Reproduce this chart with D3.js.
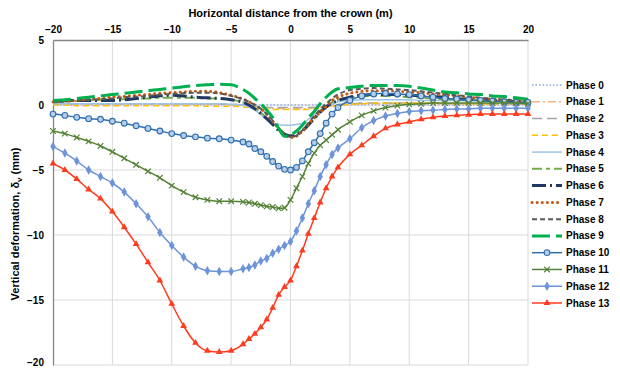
<!DOCTYPE html>
<html>
<head>
<meta charset="utf-8">
<script src="https://cdn.jsdelivr.net/npm/d3@7"></script>
<style>
  body { margin: 0; background: #fff; }
  text { font-family: "Liberation Sans", Arial, sans-serif; font-weight: bold; fill: #000; }
</style>
</head>
<body>
<div id="chart"></div>
<script>
// horizontal distance from the crown (m)
const xs = [-20,-19,-18,-17,-16,-15,-14,-13,-12,-11,-10,-9,-8,-7,-6,-5,-4,
  -3.5,-3,-2.5,-2,-1.5,-1,-0.5,0,0.5,1,1.5,2,2.5,3,3.5,
  4,5,6,7,8,9,10,11,12,13,14,15,16,17,18,19,20];

const phaseNames = ['Phase 0','Phase 1','Phase 2','Phase 3','Phase 4','Phase 5','Phase 6',
  'Phase 7','Phase 8','Phase 9','Phase 10','Phase 11','Phase 12','Phase 13'];

// vertical deformation (mm), one array per phase
const phase0 = [0,0,0,0,0,0,0,0,0,0,0,0,0,0,0,0,0,
  0,0,0,0,0,0,0,0,0,0,0,0,0,0,0,
  0,0,0,0,0,0,0,0,0,0,0,0,0,0,0,0,0];
const phase1 = [0.05,0.05,0.05,0.05,0.05,0.05,0.05,0.05,0.05,0.05,0.05,0.05,0.05,0.05,0.05,0,0,
  -0.05,-0.1,-0.15,-0.2,-0.25,-0.25,-0.3,-0.3,-0.3,-0.3,-0.25,-0.2,-0.15,-0.1,-0.05,
  0,0.05,0.1,0.1,0.1,0.1,0.1,0.1,0.1,0.1,0.1,0.1,0.05,0.05,0.05,0.05,0.05];
const phase2 = [0.1,0.1,0.1,0.1,0.1,0.1,0.1,0.1,0.1,0.1,0.1,0.1,0.1,0.1,0.05,0.05,0,
  -0.05,-0.1,-0.15,-0.2,-0.2,-0.2,-0.2,-0.2,-0.2,-0.2,-0.2,-0.2,-0.15,-0.1,0,
  0.05,0.1,0.15,0.15,0.15,0.15,0.15,0.15,0.15,0.1,0.1,0.1,0.1,0.1,0.1,0.05,0.05];
const phase3 = [0,0,-0.05,-0.05,-0.05,-0.05,-0.05,-0.05,-0.05,-0.05,-0.05,-0.05,-0.05,-0.1,-0.1,-0.1,-0.15,
  -0.2,-0.25,-0.3,-0.3,-0.35,-0.35,-0.35,-0.35,-0.35,-0.35,-0.35,-0.3,-0.25,-0.2,-0.1,
  -0.05,0.05,0.1,0.15,0.15,0.15,0.15,0.15,0.15,0.15,0.1,0.1,0.1,0.1,0.1,0.1,0.1];
const phase4 = [0.1,0.1,0.1,0.1,0.1,0.1,0.1,0.1,0.1,0.1,0.1,0.1,0.1,0.1,0.1,0.05,0,
  -0.15,-0.4,-0.75,-1.15,-1.4,-1.5,-1.55,-1.55,-1.5,-1.4,-1.1,-0.75,-0.4,-0.1,0.1,
  0.25,0.35,0.4,0.4,0.4,0.4,0.4,0.35,0.35,0.35,0.35,0.3,0.3,0.3,0.3,0.3,0.3];
const phase5 = [0.2,0.25,0.3,0.35,0.4,0.45,0.45,0.5,0.5,0.55,0.55,0.55,0.55,0.5,0.5,0.4,0.2,
  0,-0.25,-0.6,-1,-1.45,-1.9,-2.2,-2.3,-2.2,-1.9,-1.45,-0.95,-0.5,-0.1,0.2,
  0.4,0.6,0.65,0.7,0.7,0.65,0.6,0.55,0.5,0.45,0.45,0.4,0.35,0.35,0.3,0.3,0.3];
const phase6 = [0.3,0.32,0.35,0.35,0.35,0.35,0.4,0.5,0.6,0.7,0.75,0.7,0.6,0.55,0.5,0.4,0.2,
  0,-0.3,-0.65,-1.05,-1.5,-1.95,-2.25,-2.4,-2.3,-2,-1.55,-1.05,-0.55,-0.15,0.15,
  0.35,0.6,0.75,0.8,0.8,0.8,0.75,0.7,0.65,0.6,0.5,0.45,0.4,0.35,0.3,0.25,0.2];
const phase7 = [0.25,0.3,0.35,0.45,0.5,0.6,0.65,0.75,0.8,0.9,0.95,1,1.05,1.05,0.95,0.75,0.45,
  0.25,0,-0.3,-0.7,-1.25,-1.8,-2.3,-2.5,-2.4,-2,-1.5,-1,-0.55,-0.1,0.35,
  0.6,0.9,1.05,1.1,1.1,1.05,1,0.95,0.85,0.8,0.7,0.6,0.5,0.45,0.4,0.35,0.3];
const phase8 = [0.25,0.3,0.35,0.4,0.45,0.5,0.6,0.65,0.7,0.8,0.85,0.9,0.95,0.95,0.9,0.7,0.45,
  0.25,0,-0.3,-0.7,-1.2,-1.75,-2.2,-2.45,-2.35,-1.95,-1.4,-0.85,-0.35,0.1,0.5,
  0.8,1.15,1.25,1.3,1.25,1.2,1.15,1.05,0.95,0.85,0.75,0.65,0.55,0.5,0.4,0.35,0.3];
const phase9 = [0.35,0.4,0.5,0.6,0.7,0.8,0.9,1,1.1,1.2,1.3,1.4,1.5,1.55,1.6,1.55,1.2,
  0.9,0.5,0.1,-0.4,-0.95,-1.8,-2.4,-2.3,-2,-1.55,-1,-0.5,0.1,0.6,1,
  1.25,1.35,1.45,1.5,1.5,1.5,1.45,1.3,1.15,1,0.95,0.85,0.8,0.7,0.65,0.55,0.45];
const phase10 = [-0.7,-0.8,-0.95,-1.05,-1.1,-1.25,-1.4,-1.6,-1.8,-2,-2.2,-2.35,-2.45,-2.55,-2.6,-2.7,-2.85,
  -3,-3.35,-3.6,-3.95,-4.35,-4.7,-4.95,-5,-4.8,-4.3,-3.6,-2.9,-2.2,-1.4,-0.7,
  -0.2,0.35,0.7,0.85,0.9,0.85,0.8,0.7,0.6,0.5,0.45,0.4,0.35,0.3,0.25,0.2,0.2];
const phase11 = [-2,-2.2,-2.5,-2.8,-3.15,-3.6,-4.1,-4.6,-5.1,-5.6,-6.2,-6.7,-7.1,-7.3,-7.4,-7.4,-7.45,
  -7.5,-7.6,-7.7,-7.8,-7.85,-7.95,-7.9,-7.3,-6.4,-5.5,-4.5,-3.7,-3.1,-2.7,-2.3,
  -1.9,-1.3,-0.8,-0.45,-0.2,-0.05,0.05,0.1,0.15,0.15,0.15,0.15,0.15,0.15,0.15,0.15,0.1];
const phase12 = [-3.2,-3.7,-4.3,-5,-5.5,-6,-6.7,-7.6,-8.6,-9.8,-10.8,-11.7,-12.4,-12.75,-12.8,-12.8,-12.6,
  -12.5,-12.3,-12,-11.8,-11.4,-11.1,-10.8,-10.5,-9.7,-8.7,-7.6,-6.6,-5.5,-4.6,-3.8,
  -3.3,-2.6,-1.75,-1.2,-0.85,-0.65,-0.5,-0.45,-0.4,-0.35,-0.3,-0.3,-0.25,-0.25,-0.25,-0.25,-0.25];
const phase13 = [-4.5,-5,-5.7,-6.5,-7.2,-8.2,-9.4,-10.7,-12.1,-13.5,-15.3,-17,-18.3,-18.9,-19,-18.9,-18.4,
  -18,-17.6,-17.1,-16.5,-15.6,-14.6,-14,-13.5,-12.4,-11.2,-9.9,-8.7,-7.5,-6.4,-5.5,
  -4.8,-3.8,-3.1,-2.4,-1.8,-1.5,-1.3,-1.1,-0.95,-0.85,-0.8,-0.75,-0.7,-0.7,-0.7,-0.7,-0.7];

const xTicks = [-20,-15,-10,-5,0,5,10,15,20];
const yTicks = [5,0,-5,-10,-15,-20];

const allPhases = [phase0,phase1,phase2,phase3,phase4,phase5,phase6,
  phase7,phase8,phase9,phase10,phase11,phase12,phase13];

// line styles per phase
const styles = [
  { color: '#8faadc', width: 1.3, dash: '1.5,2' },
  { color: '#f4b183', width: 1.5, dash: '8,3,2,3' },
  { color: '#a5a5a5', width: 1.5, dash: '10,5' },
  { color: '#ffc000', width: 1.5, dash: '6,4' },
  { color: '#9dc3e6', width: 1.5, dash: null },
  { color: '#70ad47', width: 2, dash: '10,4,4,4' },
  { color: '#203864', width: 3, dash: '14,4,2,4' },
  { color: '#c55a11', width: 3, dash: '0.1,5', cap: 'round' },
  { color: '#595959', width: 2, dash: '5,3' },
  { color: '#00b050', width: 3, dash: '18,6' },
  { color: '#2e6fae', width: 1.5, dash: null, marker: 'circle' },
  { color: '#548235', width: 1.5, dash: null, marker: 'x' },
  { color: '#6d93d9', width: 1.5, dash: null, marker: 'diamond' },
  { color: '#ff3b1f', width: 1.5, dash: null, marker: 'triangle' }
];

const width = 620, height = 369;
const margin = { top: 40, right: 92, bottom: 4, left: 53 };

const svg = d3.select('#chart').append('svg')
  .attr('width', width)
  .attr('height', height);

const x = d3.scaleLinear().domain([-20, 20]).range([margin.left, width - margin.right]);
const y = d3.scaleLinear().domain([-20, 5]).range([height - margin.bottom, margin.top]);

// gridlines
svg.append('g').selectAll('line.v')
  .data(xTicks.slice(1))
  .enter().append('line')
  .attr('x1', d => x(d)).attr('x2', d => x(d))
  .attr('y1', y(5)).attr('y2', y(-20))
  .attr('stroke', '#d9d9d9').attr('stroke-width', 1);

svg.append('g').selectAll('line.h')
  .data(yTicks.slice(1))
  .enter().append('line')
  .attr('x1', x(-20)).attr('x2', x(20))
  .attr('y1', d => y(d)).attr('y2', d => y(d))
  .attr('stroke', '#d9d9d9').attr('stroke-width', 1);

// axes
const xAxis = svg.append('g')
  .attr('transform', 'translate(0,' + y(5) + ')')
  .call(d3.axisTop(x).tickValues(xTicks).tickSize(0).tickPadding(7));
xAxis.select('.domain').attr('stroke', '#868686').attr('stroke-width', 1.3);
xAxis.selectAll('text').attr('font-size', 10).attr('font-weight', 'bold')
  .attr('font-family', '"Liberation Sans", Arial, sans-serif');

const yAxis = svg.append('g')
  .attr('transform', 'translate(' + x(-20) + ',0)')
  .call(d3.axisLeft(y).tickValues(yTicks).tickSize(0).tickPadding(9));
yAxis.select('.domain').attr('stroke', '#868686').attr('stroke-width', 1.3);
yAxis.selectAll('text').attr('font-size', 10).attr('font-weight', 'bold')
  .attr('font-family', '"Liberation Sans", Arial, sans-serif');
// keep the bottom label inside the window
yAxis.selectAll('.tick').filter(d => d === -20).select('text').attr('dy', '0.05em');

svg.append('text')
  .attr('x', x(0))
  .attr('y', 17)
  .attr('text-anchor', 'middle')
  .attr('font-size', 11)
  .text('Horizontal distance from the crown (m)');

const yTitle = svg.append('text')
  .attr('transform', 'translate(19,224) rotate(-90)')
  .attr('text-anchor', 'middle')
  .attr('font-size', 11);
yTitle.append('tspan').text('Vertical deformation, δ');
yTitle.append('tspan').attr('font-size', 8).attr('dy', 3).text('v');
yTitle.append('tspan').attr('dy', -3).text(' (mm)');

// marker paths
function markerPath(type) {
  if (type === 'circle') return d3.symbol().type(d3.symbolCircle).size(26)();
  if (type === 'diamond') return d3.symbol().type(d3.symbolDiamond).size(26)();
  if (type === 'triangle') return d3.symbol().type(d3.symbolTriangle).size(20)();
  if (type === 'x') return 'M-2.8,-2.8L2.8,2.8M-2.8,2.8L2.8,-2.8';
  return null;
}

function styleMarker(sel, st) {
  if (st.marker === 'x') {
    sel.attr('fill', 'none').attr('stroke', st.color).attr('stroke-width', 1.2);
  } else if (st.marker === 'circle') {
    sel.attr('fill', '#b8cde8').attr('stroke', st.color).attr('stroke-width', 1.1);
  } else {
    sel.attr('fill', st.color).attr('stroke', 'none');
  }
}

const line = d3.line()
  .x(d => x(d[0]))
  .y(d => y(d[1]))
  .curve(d3.curveMonotoneX);

const plot = svg.append('g');

allPhases.forEach((vals, i) => {
  const st = styles[i];
  const pts = xs.map((xv, j) => [xv, vals[j]]);
  const path = plot.append('path')
    .datum(pts)
    .attr('d', line)
    .attr('fill', 'none')
    .attr('stroke', st.color)
    .attr('stroke-width', st.width);
  if (st.dash) path.attr('stroke-dasharray', st.dash);
  if (st.cap) path.attr('stroke-linecap', st.cap);

  if (st.marker) {
    const m = plot.append('g').selectAll('path')
      .data(pts)
      .enter().append('path')
      .attr('d', markerPath(st.marker))
      .attr('transform', d => 'translate(' + x(d[0]) + ',' + y(d[1]) + ')');
    styleMarker(m, st);
  }
});

// legend
const legend = svg.append('g');
const legY = d3.scaleLinear().domain([0, 13]).range([85, 303]);

phaseNames.forEach((name, i) => {
  const st = styles[i];
  const g = legend.append('g').attr('transform', 'translate(0,' + legY(i) + ')');
  const l = g.append('line')
    .attr('x1', 532).attr('x2', 562)
    .attr('y1', 0).attr('y2', 0)
    .attr('stroke', st.color)
    .attr('stroke-width', st.width);
  if (st.dash) l.attr('stroke-dasharray', st.dash);
  if (st.cap) l.attr('stroke-linecap', st.cap);
  if (st.marker) {
    const m = g.append('path')
      .attr('d', markerPath(st.marker))
      .attr('transform', 'translate(547,0)');
    styleMarker(m, st);
  }
  g.append('text')
    .attr('x', 566)
    .attr('y', 3.5)
    .attr('font-size', 10)
    .text(name);
});
</script>
</body>
</html>
